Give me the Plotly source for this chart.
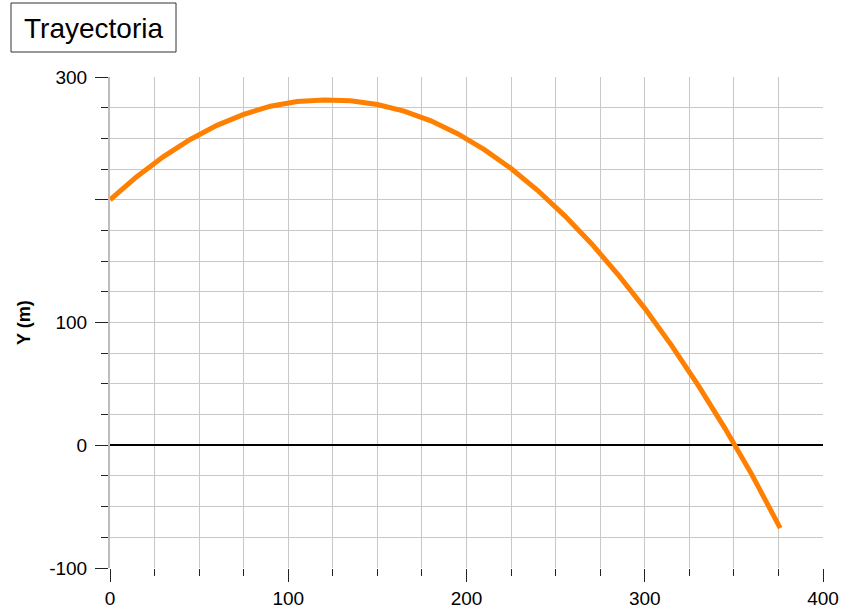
import plotly.graph_objects as go

# Data
x_vals = [0, 15, 30, 45, 60, 75, 90, 105, 120, 135, 150, 165, 180, 195, 210,
          225, 240, 255, 270, 285, 300, 315, 330, 345, 360, 376]
y_vals = [200, 218.8, 235.2, 249.1, 260.6, 269.6, 276.2, 280.0, 281.2, 280.6,
          277.6, 272.2, 264.3, 253.8, 240.8, 225.4, 207.5, 187.1, 164.4, 139.1,
          111.5, 81.4, 48.8, 13.8, -23.7, -67.5]

x_tick_vals = [0, 100, 200, 300, 400]
x_tick_text = ["0", "100", "200", "300", "400"]
y_tick_vals = [-100, 0, 100, 200, 300]
y_tick_text = ["-100", "0", "100", "", "300"]

title_text = "Trayectoria"
y_title = "Y (m)"

GRID = "#c8c8c8"
FONT = "Liberation Sans, Arial, sans-serif"

# plot area in pixels: x 110..823, y 77..568
L, R, T, B = 110, 823, 77, 568
W, H = R - L, B - T


def px(xp):
    return (xp - L) / W


def py(yp):
    return (B - yp) / H


fig = go.Figure()
fig.add_trace(go.Scatter(
    x=x_vals, y=y_vals, mode="lines",
    line=dict(color="#FF8000", width=5),
    showlegend=False, hoverinfo="skip",
))

fig.update_layout(
    width=841, height=609,
    margin=dict(l=L, r=841 - R, t=T, b=609 - B, autoexpand=False),
    paper_bgcolor="white", plot_bgcolor="white",
    font=dict(family=FONT, size=19, color="black"),
    showlegend=False,
    shapes=[dict(
        type="rect", xref="paper", yref="paper",
        x0=px(11), x1=px(176), y0=py(52), y1=py(3),
        line=dict(color="#333333", width=1), fillcolor="white", layer="above",
    )],
    annotations=[
        dict(text=title_text, xref="paper", yref="paper",
             x=px(93.5), y=py(28), xanchor="center", yanchor="middle",
             showarrow=False, font=dict(family=FONT, size=28, color="black")),
        dict(text="<b>" + y_title + "</b>", xref="paper", yref="paper",
             x=px(24), y=py(323), xanchor="center", yanchor="middle",
             textangle=-90, showarrow=False,
             font=dict(family=FONT, size=18, color="black")),
    ],
)

fig.update_xaxes(
    range=[0, 400], automargin=False,
    tickmode="array", tickvals=x_tick_vals, ticktext=x_tick_text,
    ticks="outside", ticklen=13, tickwidth=1, tickcolor="#222222",
    showgrid=True, gridcolor=GRID, gridwidth=1,
    zeroline=False, showline=False,
    minor=dict(tickmode="linear", tick0=0, dtick=25, ticks="outside",
               ticklen=7, tickcolor="#222222", showgrid=True,
               gridcolor=GRID, gridwidth=1),
    tickfont=dict(family=FONT, size=19, color="black"),
    ticklabelstandoff=0,
)

fig.update_yaxes(
    range=[-100, 300], automargin=False,
    tickmode="array", tickvals=y_tick_vals, ticktext=y_tick_text,
    ticks="outside", ticklen=13, tickwidth=1, tickcolor="#222222",
    showgrid=True, gridcolor=GRID, gridwidth=1,
    zeroline=True, zerolinecolor="black", zerolinewidth=2,
    showline=True, linecolor="#bdbdbd", linewidth=2,
    minor=dict(tickmode="linear", tick0=0, dtick=25, ticks="outside",
               ticklen=7, tickcolor="#222222", showgrid=True,
               gridcolor=GRID, gridwidth=1),
    tickfont=dict(family=FONT, size=19, color="black"),
    ticklabelstandoff=4,
)

fig.write_html(
    "out.html",
    config={"displayModeBar": False},
    post_script="document.body.style.margin='0';document.body.style.padding='0';",
)
